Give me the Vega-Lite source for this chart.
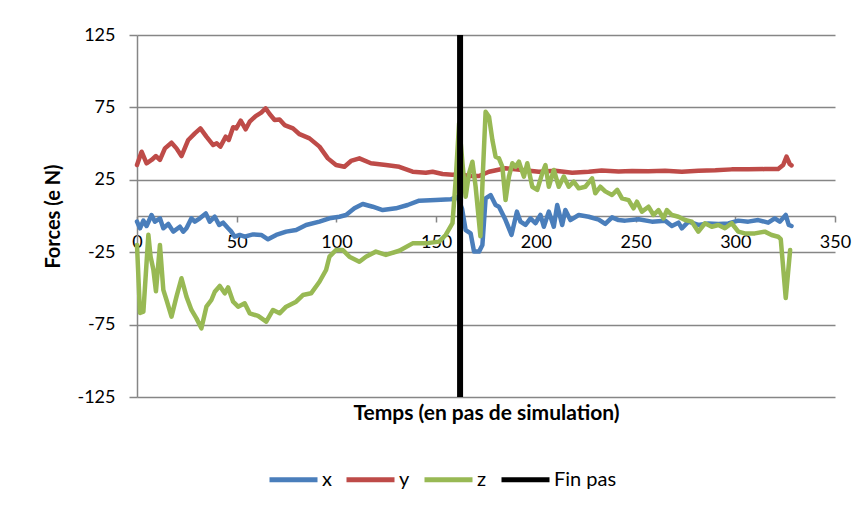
{
  "$schema": "https://vega.github.io/schema/vega-lite/v6.json",
  "width": 698,
  "height": 362,
  "autosize": {"type": "none"},
  "padding": {"left": 137, "top": 35, "right": 32, "bottom": 110},
  "background": "white",
  "config": {
    "view": {"stroke": null},
    "font": "Lato",
    "axis": {"labelFont": "Lato", "titleFont": "Lato", "labelColor": "#000000", "titleColor": "#000000"},
    "legend": {"labelFont": "Lato", "labelColor": "#000000"}
  },
  "datasets": {
    "series": [
      {"t":0,"v":-3.9,"s":"x"},{"t":1.5,"v":-8.5,"s":"x"},{"t":3.2,"v":-3.2,"s":"x"},{"t":4.8,"v":-6.9,"s":"x"},{"t":7.3,"v":0.7,"s":"x"},{"t":9,"v":-3.9,"s":"x"},{"t":11.5,"v":-1.6,"s":"x"},{"t":13.2,"v":-8.5,"s":"x"},{"t":15.7,"v":-5.5,"s":"x"},{"t":18.2,"v":-10.8,"s":"x"},{"t":21.5,"v":-7.4,"s":"x"},{"t":23.2,"v":-10.8,"s":"x"},{"t":24.8,"v":-8.5,"s":"x"},{"t":27.3,"v":-1.6,"s":"x"},{"t":29,"v":-3.9,"s":"x"},{"t":31.5,"v":-1.6,"s":"x"},{"t":34.5,"v":1.8,"s":"x"},{"t":36.5,"v":-3.9,"s":"x"},{"t":39,"v":-0.5,"s":"x"},{"t":41.2,"v":-6.2,"s":"x"},{"t":43.2,"v":-4.6,"s":"x"},{"t":45.7,"v":-8.5,"s":"x"},{"t":47.3,"v":-10.8,"s":"x"},{"t":49,"v":-14.3,"s":"x"},{"t":51.5,"v":-13.1,"s":"x"},{"t":54,"v":-14.3,"s":"x"},{"t":58.2,"v":-12.7,"s":"x"},{"t":62.3,"v":-13.1,"s":"x"},{"t":65.7,"v":-16.1,"s":"x"},{"t":69.8,"v":-13.1,"s":"x"},{"t":74.8,"v":-10.8,"s":"x"},{"t":79.8,"v":-9.7,"s":"x"},{"t":84.8,"v":-6.2,"s":"x"},{"t":91.5,"v":-3.9,"s":"x"},{"t":96.5,"v":-1.6,"s":"x"},{"t":101.5,"v":-0.5,"s":"x"},{"t":104.8,"v":0.7,"s":"x"},{"t":109,"v":5.3,"s":"x"},{"t":113.2,"v":8.3,"s":"x"},{"t":118.2,"v":6.4,"s":"x"},{"t":123.2,"v":4.1,"s":"x"},{"t":129.8,"v":5.3,"s":"x"},{"t":135.7,"v":7.6,"s":"x"},{"t":141.5,"v":10.6,"s":"x"},{"t":149.8,"v":11,"s":"x"},{"t":157.3,"v":11.5,"s":"x"},{"t":160.7,"v":13.3,"s":"x"},{"t":163,"v":5,"s":"x"},{"t":164.8,"v":-9.7,"s":"x"},{"t":167.3,"v":-12,"s":"x"},{"t":169,"v":-24.6,"s":"x"},{"t":171.5,"v":-24.6,"s":"x"},{"t":173.2,"v":-20,"s":"x"},{"t":174.8,"v":12.2,"s":"x"},{"t":177.3,"v":14.5,"s":"x"},{"t":179.8,"v":7.6,"s":"x"},{"t":181.5,"v":6.4,"s":"x"},{"t":184.8,"v":-2.8,"s":"x"},{"t":187.8,"v":-13,"s":"x"},{"t":190.5,"v":3,"s":"x"},{"t":192.3,"v":-3.9,"s":"x"},{"t":194.8,"v":-6.2,"s":"x"},{"t":197.3,"v":-1.6,"s":"x"},{"t":199.8,"v":-5,"s":"x"},{"t":202.3,"v":0.7,"s":"x"},{"t":204,"v":-7.4,"s":"x"},{"t":206.5,"v":3,"s":"x"},{"t":209,"v":-7.4,"s":"x"},{"t":210.7,"v":7.6,"s":"x"},{"t":213.2,"v":-6.2,"s":"x"},{"t":214.8,"v":4.1,"s":"x"},{"t":217.3,"v":-2.8,"s":"x"},{"t":221.5,"v":0.7,"s":"x"},{"t":226.5,"v":-0.5,"s":"x"},{"t":231.5,"v":-2.5,"s":"x"},{"t":234.8,"v":-5.5,"s":"x"},{"t":238.2,"v":-0.9,"s":"x"},{"t":241.5,"v":-2.8,"s":"x"},{"t":244.8,"v":-3.2,"s":"x"},{"t":251.5,"v":-2.3,"s":"x"},{"t":258.2,"v":-3.9,"s":"x"},{"t":264.8,"v":-3.2,"s":"x"},{"t":268.2,"v":-6.9,"s":"x"},{"t":271.5,"v":-4.6,"s":"x"},{"t":273.2,"v":-8.5,"s":"x"},{"t":276.5,"v":-3.9,"s":"x"},{"t":281.5,"v":-6.2,"s":"x"},{"t":286.5,"v":-5.1,"s":"x"},{"t":291.5,"v":-5.5,"s":"x"},{"t":296.5,"v":-5.1,"s":"x"},{"t":301.5,"v":-3.2,"s":"x"},{"t":306.5,"v":-3.9,"s":"x"},{"t":311.5,"v":-2.8,"s":"x"},{"t":316.5,"v":-4.6,"s":"x"},{"t":319.8,"v":-1.6,"s":"x"},{"t":322.3,"v":-3.9,"s":"x"},{"t":325.3,"v":0.7,"s":"x"},{"t":326.8,"v":-6.2,"s":"x"},{"t":328.2,"v":-6.9,"s":"x"},

      {"t":0,"v":35.2,"s":"y"},{"t":2.3,"v":44.4,"s":"y"},{"t":4.8,"v":36.4,"s":"y"},{"t":7.3,"v":38.7,"s":"y"},{"t":9.5,"v":41.4,"s":"y"},{"t":11.5,"v":38.7,"s":"y"},{"t":14,"v":46.7,"s":"y"},{"t":17.3,"v":50.6,"s":"y"},{"t":19.8,"v":46.7,"s":"y"},{"t":22.3,"v":41.4,"s":"y"},{"t":25.7,"v":52.5,"s":"y"},{"t":29,"v":57.1,"s":"y"},{"t":31.8,"v":60.5,"s":"y"},{"t":34.8,"v":54.8,"s":"y"},{"t":38.2,"v":49,"s":"y"},{"t":40,"v":50.2,"s":"y"},{"t":41.8,"v":47.9,"s":"y"},{"t":44.5,"v":54.8,"s":"y"},{"t":46,"v":52.5,"s":"y"},{"t":48.2,"v":61.3,"s":"y"},{"t":49.8,"v":60.5,"s":"y"},{"t":52,"v":65.8,"s":"y"},{"t":54.5,"v":59.9,"s":"y"},{"t":56.5,"v":65.1,"s":"y"},{"t":59.5,"v":69,"s":"y"},{"t":62.3,"v":71.4,"s":"y"},{"t":64.5,"v":74.4,"s":"y"},{"t":66.5,"v":70.4,"s":"y"},{"t":69,"v":66.3,"s":"y"},{"t":71.5,"v":66.7,"s":"y"},{"t":74,"v":62.8,"s":"y"},{"t":78.2,"v":60.5,"s":"y"},{"t":81.5,"v":56.5,"s":"y"},{"t":86.5,"v":53.6,"s":"y"},{"t":91.5,"v":47.9,"s":"y"},{"t":95.7,"v":39.8,"s":"y"},{"t":99.8,"v":35.2,"s":"y"},{"t":104,"v":34,"s":"y"},{"t":107.3,"v":38,"s":"y"},{"t":111.5,"v":39.8,"s":"y"},{"t":117.3,"v":36.4,"s":"y"},{"t":124.8,"v":35.2,"s":"y"},{"t":131.5,"v":34,"s":"y"},{"t":138.2,"v":30.6,"s":"y"},{"t":144.8,"v":29.9,"s":"y"},{"t":148.2,"v":30.6,"s":"y"},{"t":153.2,"v":29,"s":"y"},{"t":158.2,"v":28.5,"s":"y"},{"t":162,"v":28.8,"s":"y"},{"t":166.5,"v":27.6,"s":"y"},{"t":171.5,"v":27.6,"s":"y"},{"t":176.5,"v":30.6,"s":"y"},{"t":184.8,"v":33,"s":"y"},{"t":193.2,"v":31.8,"s":"y"},{"t":201.5,"v":30.6,"s":"y"},{"t":209.8,"v":31.3,"s":"y"},{"t":218.2,"v":29.9,"s":"y"},{"t":226.5,"v":30.6,"s":"y"},{"t":233,"v":31.5,"s":"y"},{"t":241.5,"v":30.8,"s":"y"},{"t":248.2,"v":31.1,"s":"y"},{"t":256.5,"v":30.9,"s":"y"},{"t":264.8,"v":31.3,"s":"y"},{"t":273.2,"v":30.6,"s":"y"},{"t":281.5,"v":31.3,"s":"y"},{"t":290,"v":31.6,"s":"y"},{"t":298.2,"v":32.2,"s":"y"},{"t":306.5,"v":32.2,"s":"y"},{"t":314.8,"v":32.4,"s":"y"},{"t":321.5,"v":32.4,"s":"y"},{"t":324,"v":35.2,"s":"y"},{"t":325.7,"v":41,"s":"y"},{"t":327.3,"v":35.9,"s":"y"},{"t":328.2,"v":35,"s":"y"},

      {"t":0,"v":-20,"s":"z"},{"t":1.5,"v":-67,"s":"z"},{"t":3.2,"v":-66,"s":"z"},{"t":5.7,"v":-13,"s":"z"},{"t":6.8,"v":-28,"s":"z"},{"t":8.2,"v":-37,"s":"z"},{"t":9.5,"v":-52,"s":"z"},{"t":11.5,"v":-20,"s":"z"},{"t":13.2,"v":-51,"s":"z"},{"t":14.8,"v":-58,"s":"z"},{"t":17.3,"v":-69.5,"s":"z"},{"t":19.8,"v":-55.7,"s":"z"},{"t":22.3,"v":-43,"s":"z"},{"t":24.8,"v":-55.7,"s":"z"},{"t":27.3,"v":-64.9,"s":"z"},{"t":29.8,"v":-70.7,"s":"z"},{"t":32.3,"v":-77.6,"s":"z"},{"t":34.8,"v":-62.6,"s":"z"},{"t":37.3,"v":-58,"s":"z"},{"t":39,"v":-52.3,"s":"z"},{"t":41.5,"v":-48.3,"s":"z"},{"t":44,"v":-53.4,"s":"z"},{"t":45.7,"v":-49.3,"s":"z"},{"t":48.2,"v":-59.2,"s":"z"},{"t":50.7,"v":-62.6,"s":"z"},{"t":54,"v":-60.3,"s":"z"},{"t":56.5,"v":-67.2,"s":"z"},{"t":60.7,"v":-69,"s":"z"},{"t":64.8,"v":-73,"s":"z"},{"t":68.2,"v":-64.9,"s":"z"},{"t":71.5,"v":-67.2,"s":"z"},{"t":74.8,"v":-62.6,"s":"z"},{"t":79.8,"v":-59.2,"s":"z"},{"t":83.2,"v":-54.6,"s":"z"},{"t":87.3,"v":-53.4,"s":"z"},{"t":91.5,"v":-45.4,"s":"z"},{"t":94.8,"v":-37.3,"s":"z"},{"t":96.5,"v":-28.1,"s":"z"},{"t":99.8,"v":-23.5,"s":"z"},{"t":103.2,"v":-23.5,"s":"z"},{"t":106.5,"v":-28.1,"s":"z"},{"t":111.5,"v":-31.6,"s":"z"},{"t":114.8,"v":-28.1,"s":"z"},{"t":119.8,"v":-24.6,"s":"z"},{"t":124.8,"v":-26.9,"s":"z"},{"t":131.5,"v":-24,"s":"z"},{"t":138.2,"v":-18.9,"s":"z"},{"t":144.8,"v":-18.9,"s":"z"},{"t":151.5,"v":-17.7,"s":"z"},{"t":154.8,"v":-13.1,"s":"z"},{"t":158.2,"v":-5,"s":"z"},{"t":159.8,"v":24.9,"s":"z"},{"t":161.5,"v":64,"s":"z"},{"t":163.3,"v":35,"s":"z"},{"t":164.8,"v":13.3,"s":"z"},{"t":166.5,"v":29.5,"s":"z"},{"t":168.2,"v":37.5,"s":"z"},{"t":169.8,"v":20.2,"s":"z"},{"t":172.2,"v":-14,"s":"z"},{"t":173.5,"v":31.8,"s":"z"},{"t":174.8,"v":72,"s":"z"},{"t":176.5,"v":68.6,"s":"z"},{"t":178.2,"v":52.5,"s":"z"},{"t":179.8,"v":41,"s":"z"},{"t":181.5,"v":39.8,"s":"z"},{"t":183.2,"v":34,"s":"z"},{"t":184.8,"v":11,"s":"z"},{"t":186.5,"v":27.2,"s":"z"},{"t":188.2,"v":36.4,"s":"z"},{"t":189.8,"v":34,"s":"z"},{"t":191.5,"v":37.5,"s":"z"},{"t":194,"v":27.2,"s":"z"},{"t":195.7,"v":36.4,"s":"z"},{"t":198.2,"v":20.2,"s":"z"},{"t":200.7,"v":18,"s":"z"},{"t":203.2,"v":29.5,"s":"z"},{"t":204.8,"v":35.2,"s":"z"},{"t":206.5,"v":20.2,"s":"z"},{"t":209,"v":31.8,"s":"z"},{"t":211.5,"v":20.2,"s":"z"},{"t":214,"v":27.2,"s":"z"},{"t":216.5,"v":20.2,"s":"z"},{"t":219,"v":23.7,"s":"z"},{"t":221.5,"v":19.1,"s":"z"},{"t":224.8,"v":20.2,"s":"z"},{"t":228.2,"v":26,"s":"z"},{"t":229.8,"v":15.7,"s":"z"},{"t":232.3,"v":20.2,"s":"z"},{"t":234.8,"v":17,"s":"z"},{"t":238.2,"v":14.5,"s":"z"},{"t":240.8,"v":18,"s":"z"},{"t":243.2,"v":12.2,"s":"z"},{"t":246.5,"v":11,"s":"z"},{"t":249,"v":5.3,"s":"z"},{"t":250.7,"v":9.9,"s":"z"},{"t":253.2,"v":3,"s":"z"},{"t":256.5,"v":6.4,"s":"z"},{"t":259,"v":0.7,"s":"z"},{"t":261.5,"v":4.1,"s":"z"},{"t":264,"v":-1.6,"s":"z"},{"t":265.7,"v":4.1,"s":"z"},{"t":268.2,"v":0.7,"s":"z"},{"t":271.5,"v":-0.5,"s":"z"},{"t":274.8,"v":-2.8,"s":"z"},{"t":278.2,"v":-3.9,"s":"z"},{"t":281.5,"v":-10.8,"s":"z"},{"t":284.8,"v":-5,"s":"z"},{"t":288.2,"v":-7.4,"s":"z"},{"t":291.5,"v":-6.2,"s":"z"},{"t":294.8,"v":-8.5,"s":"z"},{"t":298.2,"v":-5,"s":"z"},{"t":301.5,"v":-10.8,"s":"z"},{"t":304.8,"v":-12,"s":"z"},{"t":309.8,"v":-12,"s":"z"},{"t":314.8,"v":-10.8,"s":"z"},{"t":318.2,"v":-13.1,"s":"z"},{"t":321.5,"v":-14.3,"s":"z"},{"t":322.8,"v":-16,"s":"z"},{"t":325.3,"v":-56.6,"s":"z"},{"t":327.5,"v":-23.5,"s":"z"}
    ],
    "finpas": [{"t": 162}]
  },
  "layer": [
    {
      "data": {"name": "series"},
      "mark": {"type": "line", "strokeWidth": 4.5, "strokeJoin": "round", "strokeCap": "round"},
      "encoding": {
        "x": {
          "field": "t", "type": "quantitative",
          "scale": {"domain": [0, 350], "nice": false, "zero": false},
          "axis": {
            "orient": "bottom", "offset": -181,
            "values": [0, 50, 100, 150, 200, 250, 300, 350],
            "grid": false,
            "domainColor": "#868686", "domainWidth": 1.5,
            "tickColor": "#868686", "tickWidth": 1.5, "tickSize": 6,
            "labelFontSize": 18, "labelPadding": 11, "labelFlush": false, "labelOverlap": false,
            "title": "Temps (en pas de simulation)",
            "titleFontSize": 21, "titleFontWeight": "bold",
            "titleY": 197, "titleBaseline": "middle"
          }
        },
        "y": {
          "field": "v", "type": "quantitative",
          "scale": {"domain": [-125, 125], "nice": false, "zero": false},
          "axis": {
            "values": [-125, -75, -25, 25, 75, 125],
            "labelExpr": "replace(datum.label, '\u2212', '-')",
            "grid": true, "gridColor": "#868686", "gridWidth": 1.5,
            "domainColor": "#868686", "domainWidth": 1.5,
            "tickColor": "#868686", "tickWidth": 1.5, "tickSize": 8,
            "labelFontSize": 18, "labelPadding": 14, "labelOverlap": false,
            "title": "Forces (e N)",
            "titleFontSize": 20, "titleFontWeight": "bold",
            "titleX": -84, "titleY": 181, "titleAngle": 270,
            "titleAlign": "center", "titleBaseline": "middle"
          }
        },
        "color": {
          "field": "s", "type": "nominal",
          "scale": {"domain": ["x", "y", "z", "Fin pas"], "range": ["#4A7EBB", "#BE4B48", "#98B954", "#000000"]},
          "legend": {
            "orient": "none", "legendX": 130, "legendY": 418,
            "direction": "horizontal", "title": null,
            "symbolType": "stroke", "symbolSize": 2304, "symbolStrokeWidth": 5,
            "labelFontSize": 20, "labelOffset": 2, "columnPadding": 4
          }
        }
      }
    },
    {
      "data": {"name": "finpas"},
      "mark": {"type": "rule", "strokeWidth": 6},
      "encoding": {
        "x": {"field": "t", "type": "quantitative"},
        "color": {"datum": "Fin pas"}
      }
    }
  ]
}
